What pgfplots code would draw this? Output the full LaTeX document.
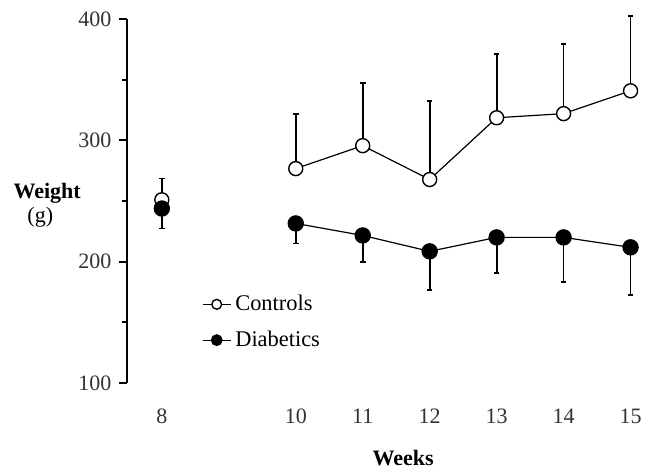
\documentclass[border=0pt]{standalone}
\usepackage{fontspec}
\setmainfont{Liberation Serif}
\usepackage{pgfplots}
\pgfplotsset{compat=1.18}

\begin{document}
\fontsize{11bp}{13.2bp}\selectfont
\begin{tikzpicture}
\begin{axis}[
    scale only axis, width=264.5bp, height=182bp,
    xmin=7.48, xmax=15.38, ymin=100, ymax=400,
    clip=false,
    axis y line=left, y axis line style={-, line width=1bp},
    axis x line=bottom, x axis line style={draw=none},
    xtick={8,10,11,12,13,14,15},
    major x tick style={draw=none},
    xticklabel style={yshift=-5bp},
    ytick={100,200,300,400}, minor ytick={150,250,350},
    tick align=outside, major tick length=4bp, minor tick length=2.5bp,
    y tick style={line width=1bp, black},
    tick label style={font=\fontsize{11bp}{13.2bp}\selectfont, text=black!80},
    /pgf/number format/assume math mode=true,
    legend style={at={(rel axis cs:0.13,0.265)}, anchor=north west,
                  draw=none, fill=none, row sep=4.5bp,
                  font=\fontsize{11.2bp}{13.2bp}\selectfont},
    legend cell align=left,
    legend image code/.code={
      \draw[mark repeat=2, mark phase=2, #1, every mark/.append style={scale=0.7}]
        plot coordinates {(0bp,0bp) (7bp,0bp) (14bp,0bp)};},
    error bars/error bar style={line width=0.9bp},
    error bars/error mark options={rotate=90, mark size=1.4bp, line width=0.9bp},
]
% week 8 (not joined to the rest)
\addplot[black, line width=0.6bp, mark=*, mark size=3.5bp,
         mark options={fill=white, line width=0.7bp}, forget plot,
         error bars/.cd, y dir=plus, y explicit]
  coordinates {(8,251) +- (0,17.5)};
\addplot[black, line width=0.6bp, mark=*, mark size=3.8bp,
         mark options={fill=black}, forget plot,
         error bars/.cd, y dir=minus, y explicit]
  coordinates {(8,243.8) +- (0,16.4)};

% controls
\addplot[black, line width=0.6bp, mark=*, mark size=3.5bp,
         mark options={fill=white, line width=0.7bp},
         error bars/.cd, y dir=plus, y explicit]
  coordinates {
    (10,276.7) +- (0,45.3)
    (11,295.6) +- (0,51.8)
    (12,267.7) +- (0,64.9)
    (13,318.6) +- (0,52.4)
    (14,322.0) +- (0,57.5)
    (15,340.8) +- (0,61.7)
  };
\addlegendentry{Controls}

% diabetics
\addplot[black, line width=0.6bp, mark=*, mark size=3.8bp,
         mark options={fill=black},
         error bars/.cd, y dir=minus, y explicit]
  coordinates {
    (10,231.5) +- (0,16.5)
    (11,221.6) +- (0,22.1)
    (12,208.5) +- (0,32.1)
    (13,220.0) +- (0,29.6)
    (14,220.0) +- (0,37.0)
    (15,211.8) +- (0,39.5)
  };
\addlegendentry{Diabetics}

% labels
\node[font=\bfseries, anchor=center] at (rel axis cs:-0.151,0.522) {Weight};
\node[anchor=center] at (rel axis cs:-0.164,0.456) {(g)};
\node[font=\bfseries, anchor=center] at (rel axis cs:0.522,-0.206) {Weeks};

% page extent
\path (rel axis cs:-0.2401,-0.239) (rel axis cs:1.0019,1.0522);
\end{axis}
\end{tikzpicture}
\end{document}
